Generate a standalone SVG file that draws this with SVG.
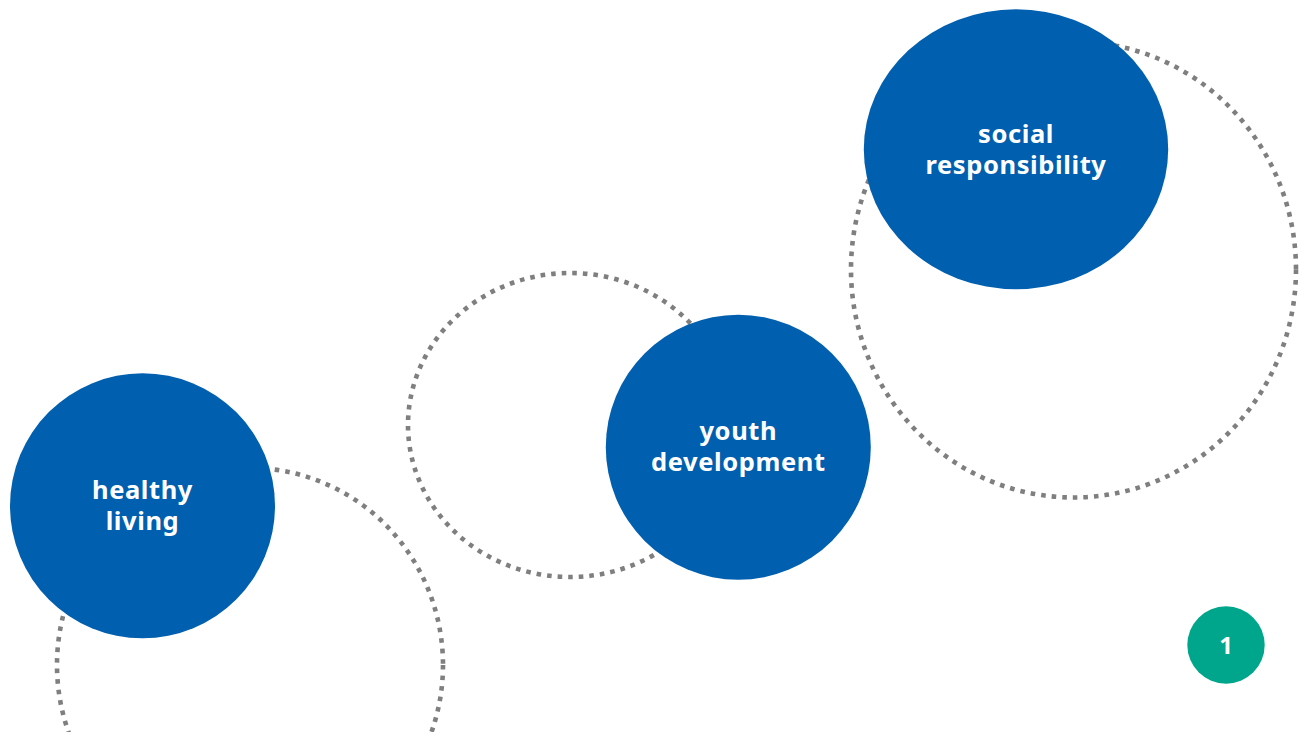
<svg xmlns="http://www.w3.org/2000/svg" width="1299" height="732" viewBox="0 0 1299 732">
<style>
.ring{fill:none;stroke:#7F7F7F;stroke-width:4.6;stroke-dasharray:4.6 6}
.node{fill:#005FAE}
.lbl{font-family:"Noto Sans","Open Sans",sans-serif;font-weight:bold;font-size:25.5px;fill:#FFFFFF;text-anchor:middle;letter-spacing:0.6px}
</style>
<rect x="0" y="0" width="1299" height="732" fill="#FFFFFF"/>
<g id="connectors">
<ellipse class="ring" cx="250" cy="665" rx="193" ry="197"/>
<ellipse class="ring" cx="570" cy="425" rx="162" ry="152"/>
<ellipse class="ring" cx="1073.5" cy="269.5" rx="222.5" ry="228"/>
</g>
<g id="node-healthy-living">
<circle class="node" cx="142.5" cy="505.8" r="132.5"/>
<text class="lbl"><tspan x="142.5" y="498.5">healthy</tspan><tspan x="142.5" y="530">living</tspan></text>
</g>
<g id="node-youth-development">
<circle class="node" cx="738.3" cy="447.2" r="132.5"/>
<text class="lbl"><tspan x="738.3" y="440">youth</tspan><tspan x="738.3" y="471">development</tspan></text>
</g>
<g id="node-social-responsibility">
<ellipse class="node" cx="1016" cy="149.3" rx="152.2" ry="140"/>
<text class="lbl"><tspan x="1016" y="142.5">social</tspan><tspan x="1016" y="174">responsibility</tspan></text>
</g>
<g id="node-page-number">
<circle cx="1226" cy="645" r="38.7" fill="#00A68B"/>
<text x="1226" y="653.5" font-family="Noto Sans, sans-serif" font-weight="bold" font-size="24" fill="#FFFFFF" text-anchor="middle">1</text>
</g>
</svg>
